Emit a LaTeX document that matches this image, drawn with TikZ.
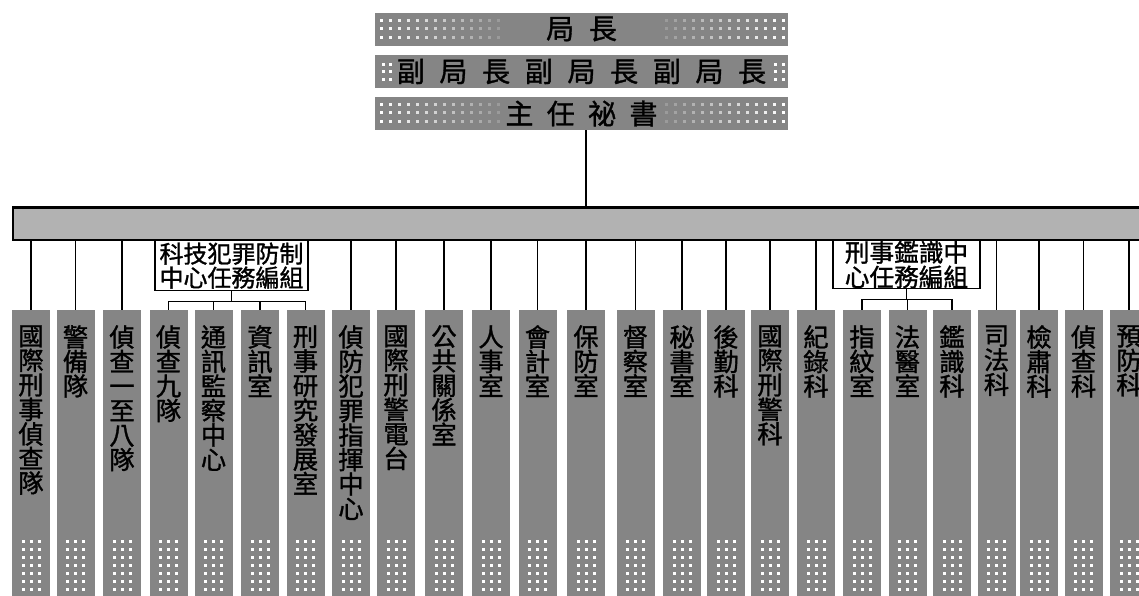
\documentclass[tikz,border=0pt]{standalone}
\usepackage{fontspec}
\setmainfont{Noto Sans CJK TC}[FakeBold=1.2]
\usetikzlibrary{positioning, calc}

\makeatletter
% one character per line
\newcommand\vstr[1]{\vbox{\lineskiplimit-20pt\relax\edef\vs@list{#1}%
  \def\vs@go{\@tfor\vs@ch:=}%
  \expandafter\vs@go\vs@list\do{\hbox to 1em{\hss\vs@ch\hss}}}}
% characters spread out on one line
\newcommand\hstr[2]{\def\hs@sep{}\@tfor\hs@ch:=#2\do{\hs@sep\hs@ch\def\hs@sep{\hspace{#1}}}}
% tight two-line text
\newcommand\grpfont[1]{\fontsize{#1}{#1}\selectfont\lineskiplimit-20pt\relax}
\makeatother

\begin{document}
\begin{tikzpicture}[
  x=0.75pt, y=-0.75pt,
  topbox/.style={
    fill=black!48, minimum width=309.75pt, minimum height=24.75pt,
    inner sep=0pt, font=\fontsize{21pt}{24pt}\selectfont
  },
  hqbar/.style={
    draw=black, line width=0.9pt, fill=black!30,
    minimum width=852.75pt, minimum height=24pt, inner sep=0pt
  },
  grpbox/.style={
    draw=black, line width=0.9pt, fill=white, anchor=north,
    inner sep=0pt, align=center, font=\grpfont{18pt}
  },
  colbox/.style={
    fill=black!48, minimum width=28.5pt, minimum height=222pt,
    anchor=north, inner sep=0pt
  },
  coltext/.style={
    anchor=north, inner sep=0pt, font=\fontsize{19pt}{18.4pt}\selectfont
  },
  dot/.style={fill=white},
  link/.style={line width=0.9pt}
]
\useasboundingbox (0,0) rectangle (1139,596);
\clip (0,0) rectangle (1139,596);

% ── Head office ─────────────────────────────────────────────
\node[topbox] (chief) at (581.5,29) {\hstr{11pt}{局長}};
\node[topbox] (deputy) at (581.5,71.5) {\hstr{11pt}{副局長副局長副局長}};
\node[topbox] (secr) at (581.5,113.5) {\hstr{10pt}{主任祕書}};

% ── Dot patches at the box ends ─────────────────────────────
\foreach \yy in {29,113.5}{
  \foreach \k in {0,...,13}{
    \pgfmathsetmacro\op{1-\k/16}
    \foreach \dy in {-9,-1,8}{
      \fill[dot, opacity=\op] (381+9*\k-1.5,\yy+\dy-1.5) rectangle ++(3,3);
      \fill[dot, opacity=\op] (783-9*\k-1.5,\yy+\dy-1.5) rectangle ++(3,3);
    }
  }
}
\foreach \xx in {383,390,775,783}
  \foreach \dy in {-7,0,8}
    \fill[dot] (\xx-1.5,71.5+\dy-1.5) rectangle ++(3,3);

% ── Main bar ────────────────────────────────────────────────
\node[hqbar] (hq) at (581.5,224) {};
\draw[line width=1.6pt] (hq.north west) -- (hq.north east);

% ── Units ───────────────────────────────────────────────────
\foreach \x/\lab [count=\i from 0] in {
    31/國際刑事偵查隊, 75.5/警備隊, 122/偵查一至八隊, 168.5/偵查九隊,
    213.5/通訊監察中心, 260/資訊室, 305.5/刑事研究發展室,
    351/偵防犯罪指揮中心, 396/國際刑警電台, 444/公共關係室, 491/人事室,
    537.5/會計室, 586/保防室, 635.5/督察室, 682/秘書室, 726/後勤科,
    770/國際刑警科, 816/紀錄科, 862/指紋室, 907.5/法醫室, 952/鑑識科,
    996.5/司法科, 1039/檢肅科, 1083.5/偵查科, 1129/預防科}{
  \node[colbox] (c\i) at (\x,310) {};
  \node[coltext] (t\i) at (\x,325) {\vstr{\lab}};
  \foreach \dx in {-8,0,8}
    \foreach \r in {0,...,6}
      \fill[dot] (\x+\dx-1.5,541+8*\r-1.5) rectangle ++(3,3);
}

% ── Task groups ─────────────────────────────────────────────
\node[grpbox, minimum width=114.75pt, minimum height=37.5pt] (g1) at (231.5,240)
  {科技犯罪防制\\中心任務編組};
\node[grpbox, minimum width=110.25pt, minimum height=36pt,
      font=\grpfont{18.5pt}] (g2) at (906.5,240)
  {刑事鑑識中\\心任務編組};

% ── Connectors ──────────────────────────────────────────────
\draw[link] (secr.south -| c12.north) -- (hq.north -| c12.north);
\foreach \i in {0,1,2,7,8,...,17,21,22,23,24}
  \draw[link] (hq.south -| c\i.north) -- (c\i.north);

\draw[link] (g1.south) -- ++(0,10) coordinate (g1m);
\draw[link] (c3.north |- g1m) -- (c6.north |- g1m);
\foreach \i in {3,...,6}
  \draw[link] (c\i.north |- g1m) -- (c\i.north);

\draw[link] (g2.south) -- ++(0,10) coordinate (g2m);
\draw[link] (c18.north |- g2m) -- (c20.north |- g2m);
\foreach \i in {18,19,20}
  \draw[link] (c\i.north |- g2m) -- (c\i.north);

\end{tikzpicture}
\end{document}
